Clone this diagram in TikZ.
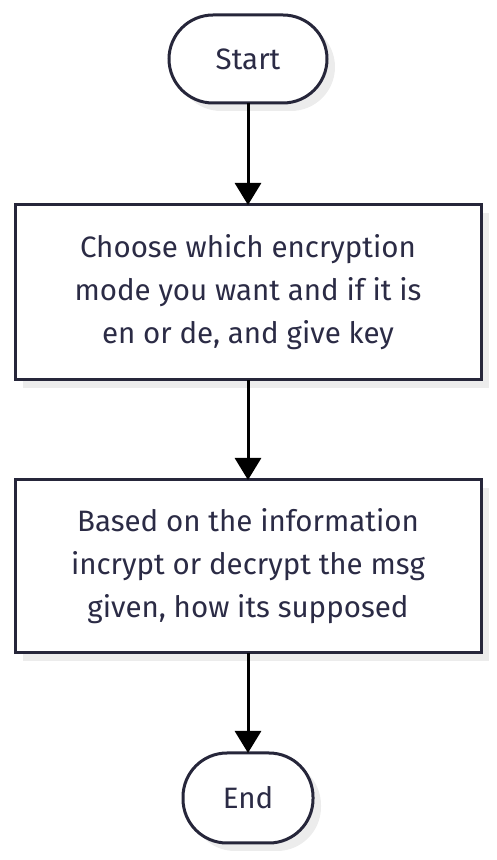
\documentclass[tikz,border=0pt]{standalone}
\usepackage{fontspec}
\setmainfont{Fira Sans}
\usetikzlibrary{arrows.meta,shadows}
\definecolor{c26263a}{RGB}{38,38,58}
\definecolor{c2b2b45}{RGB}{43,43,69}
\definecolor{cebebeb}{RGB}{236,236,236}

\begin{document}
\begin{tikzpicture}[y=1pt, x=1pt, inner sep=0pt, outer sep=0pt,
  flowbox/.style={draw=c26263a, fill=white, line width=3pt, align=center,
    text=c2b2b45, font=\fontsize{29.5}{43}\selectfont,
    drop shadow={shadow xshift=8pt, shadow yshift=-8pt, fill=cebebeb, opacity=1}},
  terminal/.style={flowbox, rounded corners=44pt},
  flowarrow/.style={draw=black, line width=3pt, -{Triangle[length=22pt,width=26pt]}}]
  \useasboundingbox (0.0, 0.0) rectangle (496.0, 860.0);



  \node[terminal, minimum width=158, minimum height=88] (start) at (248.0, 801.0){Start};



  \node[flowbox, minimum width=466, minimum height=175] (choose) at (248.0, 567.5){Choose which encryption\\mode you want and if it is\\en or de, and give key};



  \node[flowbox, minimum width=466, minimum height=173] (crypt) at (248.0, 293.5){Based on the information\\incrypt or decrypt the msg\\given, how its supposed};



  \node[terminal, minimum width=130, minimum height=90] (end) at (248.0, 62.0){End};



  \path[flowarrow] (start) -- (choose);



  \path[flowarrow] (choose) -- (crypt);



  \path[flowarrow] (crypt) -- (end);




\end{tikzpicture}
\end{document}
